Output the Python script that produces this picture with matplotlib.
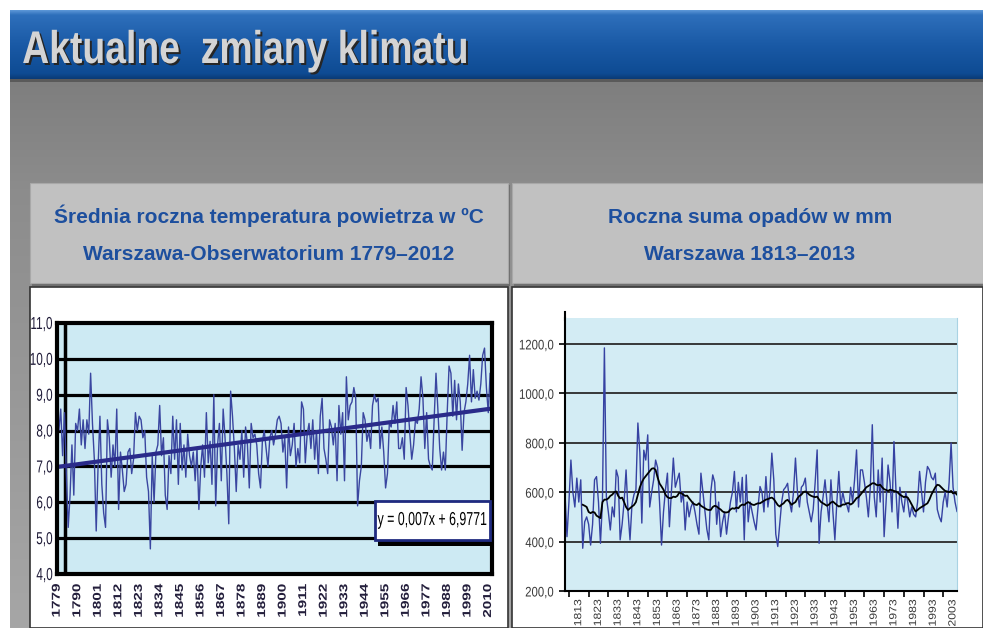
import numpy as np
import matplotlib
matplotlib.use("Agg")
import matplotlib.pyplot as plt
from matplotlib.patches import Rectangle
from matplotlib.colors import LinearSegmentedColormap, to_rgba
from matplotlib.patheffects import AbstractPathEffect
from matplotlib.transforms import Affine2D

# ---------------- DATA ----------------
title_text = "Aktualne  zmiany klimatu"
left_header = ["Średnia roczna temperatura powietrza w ºC", "Warszawa-Obserwatorium 1779–2012"]
right_header = ["Roczna suma opadów w mm", "Warszawa 1813–2013"]

temp_start_year = 1779
temp_values = [
    9.0, 8.0, 8.6, 7.3, 8.5, 6.8, 5.3, 6.2, 7.6, 6.2,   # 1779-1788
    8.2, 8.0, 8.6, 7.6, 8.3, 7.5, 8.3, 7.9, 9.6, 8.2,   # 1789-1798
    7.2, 5.2, 7.0, 8.4, 6.5, 5.7, 5.3, 8.3, 7.8, 6.7,   # 1799-1808
    7.6, 7.0, 8.6, 5.8, 7.4, 6.9, 6.3, 6.5, 7.4, 7.5,   # 1809-1818
    6.8, 7.2, 8.5, 8.0, 8.4, 8.3, 7.8, 8.0, 6.7, 6.3,   # 1819-1828
    4.7, 7.3, 6.0, 7.4, 7.6, 8.7, 7.3, 7.8, 6.2, 5.8,   # 1829-1838
    7.3, 6.8, 8.4, 7.2, 8.3, 6.5, 8.2, 6.9, 7.6, 6.7,   # 1839-1848
    7.9, 7.3, 7.0, 7.4, 6.6, 7.5, 5.8, 7.0, 7.6, 6.7,   # 1849-1858
    8.5, 7.1, 7.7, 6.5, 9.0, 5.9, 7.6, 8.2, 6.6, 8.6,   # 1859-1868
    7.8, 6.8, 5.4, 9.1, 8.4, 7.5, 6.3, 7.6, 7.2, 8.0,   # 1869-1878
    6.7, 8.1, 7.6, 6.4, 8.2, 7.8, 7.9, 7.6, 6.8, 6.4,   # 1879-1888
    7.7, 8.0, 7.5, 7.0, 7.8, 8.0, 7.6, 7.9, 8.3, 8.4,   # 1889-1898
    8.2, 7.4, 7.8, 6.4, 8.1, 7.3, 7.6, 8.2, 7.0, 7.5,   # 1899-1908
    7.1, 8.8, 8.6, 7.1, 7.9, 8.2, 7.5, 8.3, 7.2, 8.0,   # 1909-1918
    6.8, 8.4, 8.9, 7.5, 7.2, 6.8, 8.3, 8.1, 7.6, 8.2,   # 1919-1928
    6.6, 8.7, 7.9, 8.5, 6.6, 9.5, 8.3, 8.7, 8.8, 9.2,   # 1929-1938
    8.9, 5.9, 6.6, 7.0, 8.5, 8.3, 7.7, 8.0, 7.5, 8.7,   # 1939-1948
    9.0, 8.8, 8.9, 7.5, 8.1, 7.4, 6.4, 6.8, 8.2, 8.1,   # 1949-1958
    8.7, 8.2, 8.8, 7.5, 7.5, 7.8, 7.2, 9.2, 8.7, 7.9,   # 1959-1968
    7.2, 7.6, 8.3, 8.2, 8.6, 9.5, 8.9, 7.5, 8.5, 7.2,   # 1969-1978
    7.0, 6.9, 8.3, 9.6, 8.6, 7.5, 6.9, 7.4, 6.9, 8.5,   # 1979-1988
    9.8, 9.6, 8.4, 9.4, 8.3, 9.3, 8.8, 7.45, 8.5, 8.8,  # 1989-1998
    9.3, 10.1, 8.8, 9.7, 8.9, 9.1, 8.85, 9.3, 10.1, 10.3,  # 1999-2008
    9.2, 8.5, 9.6, 9.4,                                 # 2009-2012
]
temp_years = list(range(temp_start_year, temp_start_year + len(temp_values)))
trend_slope = 0.007
trend_intercept = 6.9771
trend_label = "y = 0,007x + 6,9771"
temp_yticks = [4, 5, 6, 7, 8, 9, 10, 11]
temp_yticklabels = ["4,0", "5,0", "6,0", "7,0", "8,0", "9,0", "10,0", "11,0"]
temp_xticks = list(range(1779, 2011, 11))

precip_start_year = 1806
precip_values = [
    595, 420, 560, 730, 600, 540, 657, 560, 650, 373,   # 1806-1815
    480, 500, 470, 386, 470, 650, 663, 560, 393, 560,   # 1816-1825
    1184, 582, 520, 447, 540, 500, 690, 660, 407, 470,  # 1826-1835
    560, 690, 520, 407, 550, 590, 610, 880, 760, 475,   # 1836-1845
    770, 730, 832, 540, 600, 650, 730, 700, 560, 386,   # 1846-1855
    520, 610, 677, 460, 600, 738, 620, 650, 677, 560,   # 1856-1865
    600, 447, 560, 500, 540, 560, 520, 470, 430, 677,   # 1866-1875
    600, 520, 450, 407, 600, 670, 640, 470, 560, 420,   # 1876-1885
    480, 520, 430, 500, 560, 600, 684, 520, 640, 560,   # 1886-1895
    660, 407, 670, 480, 560, 520, 480, 447, 540, 623,   # 1896-1905
    600, 520, 663, 540, 600, 758, 650, 430, 380, 470,   # 1906-1915
    560, 610, 620, 636, 560, 520, 600, 738, 600, 540,   # 1916-1925
    620, 630, 657, 560, 520, 480, 530, 640, 771, 393,   # 1926-1935
    520, 580, 650, 560, 480, 650, 520, 407, 560, 684,   # 1936-1945
    540, 600, 560, 550, 520, 620, 560, 650, 771, 540,   # 1946-1955
    690, 690, 640, 580, 500, 620, 873, 580, 500, 690,   # 1956-1965
    560, 738, 420, 560, 710, 640, 520, 805, 610, 454,   # 1966-1975
    620, 560, 520, 600, 560, 500, 540, 510, 500, 560,   # 1976-1985
    684, 600, 520, 640, 704, 690, 660, 650, 677, 530,   # 1986-1995
    500, 480, 560, 600, 540, 640, 799, 620, 560, 522,   # 1996-2005
]
precip_years = list(range(precip_start_year, precip_start_year + len(precip_values)))

ma_start_year = 1815
ma_values = [
    549, 545, 540, 520, 515, 520, 518, 505, 500, 495,   # 1815-1824
    560, 570, 570, 575, 585, 590, 600, 603, 585, 575,   # 1825-1834
    578, 560, 540, 528, 535, 542, 548, 560, 590, 620,   # 1835-1844
    640, 655, 665, 675, 685, 695, 697, 690, 660, 635,   # 1845-1854
    623, 610, 590, 580, 576, 576, 582, 580, 585, 598,   # 1855-1864
    596, 590, 585, 586, 575, 565, 555, 550, 548, 555,   # 1865-1874
    545, 540, 535, 530, 528, 528, 540, 545, 542, 535,   # 1875-1884
    530, 522, 518, 518, 520, 530, 535, 533, 538, 535,   # 1885-1894
    545, 550, 548, 555, 560, 555, 550, 548, 552, 555,   # 1895-1904
    555, 560, 565, 570, 572, 576, 578, 572, 560, 548,   # 1905-1914
    542, 550, 555, 565, 569, 560, 549, 555, 560, 575,   # 1915-1924
    585, 590, 600, 603, 598, 590, 585, 582, 580, 582,   # 1925-1934
    570, 560, 555, 550, 545, 550, 558, 562, 555, 548,   # 1935-1944
    542, 545, 550, 550, 555, 556, 550, 555, 565, 576,   # 1945-1954
    580, 590, 600, 610, 620, 625, 630, 636, 636, 630,   # 1955-1964
    628, 630, 620, 612, 609, 605, 610, 608, 605, 603,   # 1965-1974
    598, 590, 585, 580, 582, 578, 565, 550, 535, 522,   # 1975-1984
    528, 535, 540, 545, 550, 555, 570, 590, 605, 620,   # 1985-1994
    630, 628, 620, 612, 605, 603, 600, 605, 595, 598,   # 1995-2004
    590,                                                # 2005
]
ma_years = list(range(ma_start_year, ma_start_year + len(ma_values)))
precip_yticks = [200, 400, 600, 800, 1000, 1200]
precip_yticklabels = ["200,0", "400,0", "600,0", "800,0", "1000,0", "1200,0"]
precip_xticks = list(range(1813, 2004, 10))
precip_minor_xticks = list(range(1808, 2006, 5))


# ---------------- helpers ----------------
class HScale(AbstractPathEffect):
    """Condense text horizontally (the text stays a Text object);
    optionally draws a drop shadow first."""

    def __init__(self, sx, anchor="center", shadow=None, shadow_offset=(2, 2)):
        super().__init__()
        self.sx = sx
        self.anchor = anchor
        self.shadow = None if shadow is None else to_rgba(shadow)
        self.shadow_offset = shadow_offset

    def draw_path(self, renderer, gc, tpath, affine, rgbFace=None):
        bb = tpath.get_extents(affine)
        if self.anchor == "left":
            a = bb.x0
        elif self.anchor == "right":
            a = bb.x1
        else:
            a = 0.5 * (bb.x0 + bb.x1)
        new = affine + Affine2D().translate(-a, 0).scale(self.sx, 1).translate(a, 0)
        if self.shadow is not None:
            dx, dy = self.shadow_offset
            renderer.draw_path(gc, tpath, new + Affine2D().translate(dx, -dy), self.shadow)
        renderer.draw_path(gc, tpath, new, rgbFace)


W, H = 983, 628
fig = plt.figure(figsize=(W / 100, H / 100), dpi=100)
fig.patch.set_facecolor("white")

SANS = ["Liberation Sans", "DejaVu Sans"]


def px(x0, y0, x1, y1):
    return [x0 / W, 1 - y1 / H, (x1 - x0) / W, (y1 - y0) / H]


bg = fig.add_axes([0, 0, 1, 1])
bg.axis("off")


def grad(x0, y0, x1, y1, stops, z=0):
    cmap = LinearSegmentedColormap.from_list("g", stops)
    arr = np.linspace(0, 1, 256).reshape(-1, 1)
    bg.imshow(arr, cmap=cmap, extent=(x0, x1, y1, y0), aspect="auto",
              zorder=z, interpolation="bilinear")


# gray slide background
grad(10, 78, W, H, [(0, "#7e7e7e"), (0.2, "#8c8c8c"), (1, "#a6a6a6")], z=0)
# title bar
grad(10, 10, W, 79, [(0, "#5e98d8"), (0.07, "#2e6fbb"), (0.5, "#1a5aa6"),
                     (0.92, "#0e4b93"), (1, "#0a3a75")], z=1)
bg.add_patch(Rectangle((10, 79), W - 10, 3, fc="#5a5a5a", ec="none", zorder=1))
# title text (condensed, with drop shadow)
bg.text(22, 63, title_text, fontsize=33, fontweight="bold", family=SANS,
        color="#d4d4d4", va="baseline", ha="left", zorder=3,
        path_effects=[HScale(0.815, "left", shadow="#262626", shadow_offset=(2, 2))])

# header boxes
for (x0, x1, cx, lines) in [(30, 508, 269, left_header), (512, W, 750, right_header)]:
    bg.add_patch(Rectangle((x0 + 2, 185), x1 - x0, 101, fc="#6e6e6e", ec="none", zorder=2))
    bg.add_patch(Rectangle((x0, 183), x1 - x0, 100, fc="#c1c1c1", ec="#a8a8a8", lw=0.8, zorder=3))
    bg.text(cx, 223, lines[0], fontsize=15, fontweight="bold", family=SANS,
            color="#1d4f9e", ha="center", va="baseline", zorder=4)
    bg.text(cx, 260, lines[1], fontsize=15, fontweight="bold", family=SANS,
            color="#1d4f9e", ha="center", va="baseline", zorder=4)

# white chart panels
bg.add_patch(Rectangle((30, 287), 478, H - 287, fc="white", ec="#333333", lw=1.2, zorder=2))
bg.add_patch(Rectangle((512, 287), W - 512, H - 287, fc="white", ec="#333333", lw=1.2, zorder=2))
# upward extension of the precipitation y-axis line
bg.plot([565, 565], [312, 320], color="black", lw=1.5, zorder=3)
bg.set_xlim(0, W)
bg.set_ylim(H, 0)

# ---------------- LEFT CHART ----------------
axL = fig.add_axes(px(57, 323, 492, 574))
axL.set_facecolor("#cdeaf3")
for yv in temp_yticks[1:-1]:
    axL.axhline(yv, color="black", lw=2.3, zorder=1)
axL.axvline(1783.3, color="black", lw=2.5, zorder=1)
axL.plot(temp_years, temp_values, color="#3a46a0", lw=1.0, zorder=2)
n = len(temp_values)
axL.plot([temp_years[0], temp_years[-1]],
         [trend_slope * 1 + trend_intercept, trend_slope * n + trend_intercept],
         color="#2a2b8a", lw=3, zorder=3, solid_capstyle="butt")
axL.set_xlim(temp_years[0], temp_years[-1])
axL.set_ylim(temp_yticks[0], temp_yticks[-1])
axL.set_yticks(temp_yticks)
axL.set_yticklabels(temp_yticklabels, family=SANS, fontsize=12.5, color="#1f1b38")
axL.set_xticks(temp_xticks)
axL.set_xticklabels([str(t) for t in temp_xticks], rotation=90, family=SANS,
                    fontsize=11, fontweight="bold", color="#241f3c")
axL.tick_params(axis="y", length=0, pad=3)
axL.tick_params(axis="x", length=0, pad=7)
for s in axL.spines.values():
    s.set_linewidth(3)
    s.set_color("black")
    s.set_zorder(4)

# equation box (axes coordinates)
ex0, ex1 = (375 - 57) / 435, (490 - 57) / 435
ey0, ey1 = (574 - 540) / 251, (574 - 501) / 251
axL.add_patch(Rectangle((ex0 + 0.006, ey0 - 0.022), ex1 - ex0, ey1 - ey0,
                        transform=axL.transAxes, fc="black", ec="none", zorder=5))
axL.add_patch(Rectangle((ex0, ey0), ex1 - ex0, ey1 - ey0, transform=axL.transAxes,
                        fc="white", ec="#1f2a80", lw=2, zorder=6))
axL.text((ex0 + ex1) / 2, (ey0 + ey1) / 2, trend_label, transform=axL.transAxes,
         family=SANS, fontsize=13.5, color="black", ha="center", va="center", zorder=7,
         path_effects=[HScale(0.66, "center")])

# ---------------- RIGHT CHART ----------------
axR = fig.add_axes(px(565, 318, 957, 591))
axR.set_facecolor("#d3ecf4")
for yv in precip_yticks[1:]:
    axR.axhline(yv, color="#2a2a2a", lw=1.3, zorder=1)
axR.plot(precip_years, precip_values, color="#3642a2", lw=1.0, zorder=2)
axR.plot(ma_years, ma_values, color="black", lw=1.3, zorder=3)
axR.set_xlim(precip_years[0], precip_years[-1])
axR.set_ylim(200, 1305)
axR.set_yticks(precip_yticks)
axR.set_yticklabels(precip_yticklabels, family=SANS, fontsize=10, color="#3a3a3a")
axR.set_xticks(precip_xticks)
axR.set_xticks(precip_minor_xticks, minor=True)
axR.set_xticklabels([str(t) for t in precip_xticks], rotation=90, family=SANS,
                    fontsize=8.8, color="#3a3a3a")
axR.tick_params(axis="y", length=4, width=1.2, pad=4)
axR.tick_params(axis="x", which="both", length=4, width=1.2, pad=3)
axR.tick_params(axis="x", which="major", length=0, pad=6)
axR.spines["top"].set_visible(False)
axR.spines["right"].set_color("#a9d3e3")
axR.spines["left"].set_linewidth(1.5)
axR.spines["bottom"].set_linewidth(1.5)

# condensed look of the tick labels
for t in axL.get_yticklabels():
    t.set_path_effects([HScale(0.68, "right")])
for t in axL.get_xticklabels():
    t.set_path_effects([HScale(0.75, "center")])
for t in axR.get_yticklabels():
    t.set_path_effects([HScale(0.82, "right")])
for t in axR.get_xticklabels():
    t.set_path_effects([HScale(0.85, "center")])

fig.savefig("out.png", dpi=100)
